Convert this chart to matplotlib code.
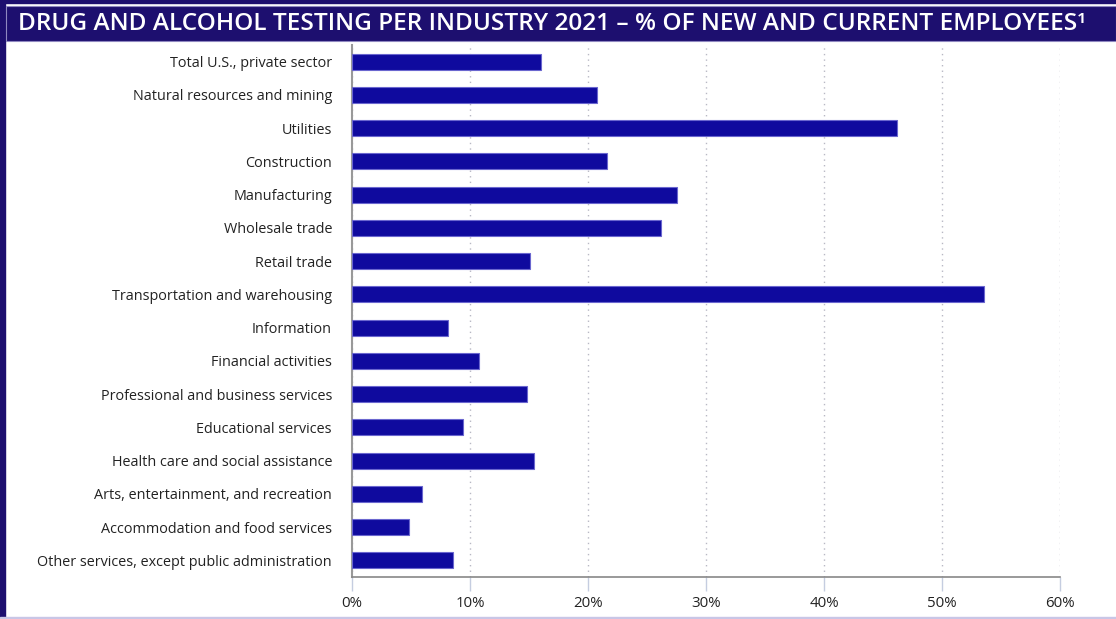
import matplotlib
matplotlib.use("Agg")
import matplotlib.pyplot as plt
from matplotlib.patches import Rectangle

categories = [
    "Total U.S., private sector",
    "Natural resources and mining",
    "Utilities",
    "Construction",
    "Manufacturing",
    "Wholesale trade",
    "Retail trade",
    "Transportation and warehousing",
    "Information",
    "Financial activities",
    "Professional and business services",
    "Educational services",
    "Health care and social assistance",
    "Arts, entertainment, and recreation",
    "Accommodation and food services",
    "Other services, except public administration",
]
values = [16.0, 20.8, 46.2, 21.6, 27.5, 26.2, 15.1, 53.6, 8.1, 10.8, 14.8, 9.4, 15.4, 5.9, 4.8, 8.6]
xticks = [0, 10, 20, 30, 40, 50, 60]
xticklabels = ["0%", "10%", "20%", "30%", "40%", "50%", "60%"]
title = "DRUG AND ALCOHOL TESTING PER INDUSTRY 2021 \u2013 % OF NEW AND CURRENT EMPLOYEES\u00b9"

W, H = 1116, 619
fig = plt.figure(figsize=(W / 100, H / 100), dpi=100)
fig.patch.set_facecolor("white")

navy = "#1d0f6f"
# border strips
fig.patches.append(Rectangle((0, 0), 5 / W, 1, transform=fig.transFigure, color=navy, zorder=0))
fig.patches.append(Rectangle((0, 1 - 3 / H), 1, 3 / H, transform=fig.transFigure, color=navy, zorder=0))
fig.patches.append(Rectangle((0, 0), 1, 2 / H, transform=fig.transFigure, color="#c9c6e6", zorder=0))
# title bar
fig.patches.append(Rectangle((6 / W, 1 - 41 / H), 1 - 6 / W, 35 / H, transform=fig.transFigure,
                             facecolor=navy, edgecolor="#8f88c0", linewidth=0.8, zorder=1))
fig.text(18 / W, 1 - 23.5 / H, title, color="white", fontsize=17.55, family=["Open Sans", "DejaVu Sans"],
         fontweight="semibold", va="center", ha="left")

ax = fig.add_axes([352 / W, 1 - 577 / H, 708 / W, 532 / H])
y = list(range(len(categories)))
ax.barh(y, values, height=0.48, color="#0f0a9e", edgecolor="#6a66cf", linewidth=0.8, zorder=3)
ax.set_ylim(len(categories) - 0.5, -0.5)
ax.set_xlim(0, 60)
ax.set_yticks(y)
ax.set_yticklabels(categories, fontsize=10.4, color="#222222", family=["Open Sans", "DejaVu Sans"])
ax.set_xticks(xticks)
ax.set_xticklabels(xticklabels, fontsize=10.8, color="#222222", family=["Open Sans", "DejaVu Sans"])
ax.tick_params(axis="y", length=0, pad=14.4)
ax.tick_params(axis="x", length=10, width=1, color="#c5cde0", pad=4)
ax.grid(axis="x", linestyle=(0, (1, 3)), color="#b8b8c4", linewidth=1, zorder=0)
for s in ["top", "right"]:
    ax.spines[s].set_visible(False)
ax.spines["left"].set_color("#999999")
ax.spines["left"].set_linewidth(1.5)
ax.spines["bottom"].set_color("#888888")
ax.spines["bottom"].set_linewidth(1.2)

fig.savefig("out.png", dpi=100, facecolor="white")
